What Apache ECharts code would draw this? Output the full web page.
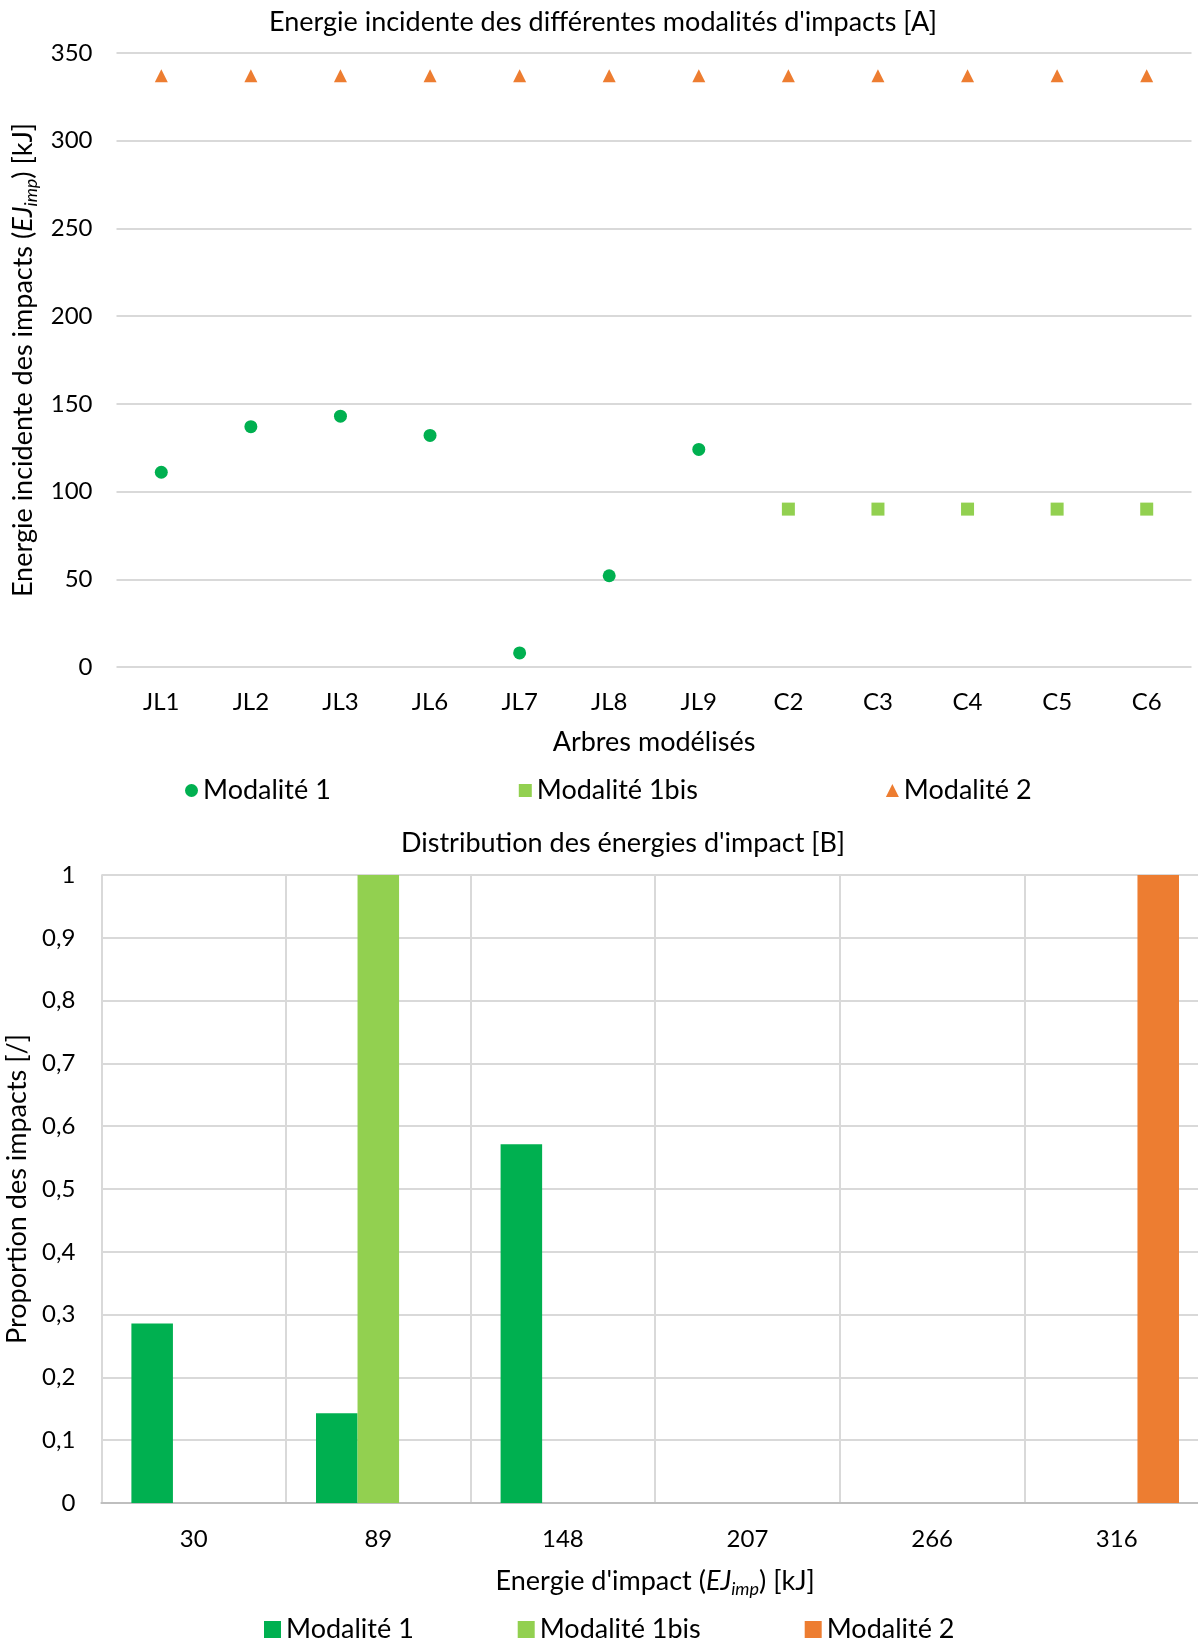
<!DOCTYPE html>
<html>
<head>
<meta charset="utf-8">
<script src="https://cdn.jsdelivr.net/npm/echarts@6/dist/echarts.min.js"></script>
<style>
  body { margin: 0; background: #fff; overflow: hidden; }
  /* plus large que la fenetre : le graphique [B] deborde a droite comme l'original */
  #main { width: 1230px; height: 1640px; }
</style>
</head>
<body>
<div id="main"></div>
<script>
// --- donnees du graphique [A] ---
var arbres = ['JL1', 'JL2', 'JL3', 'JL6', 'JL7', 'JL8', 'JL9', 'C2', 'C3', 'C4', 'C5', 'C6'];
var energieMod1 = [111, 137, 143, 132, 8, 52, 124, '-', '-', '-', '-', '-'];
var energieMod1bis = ['-', '-', '-', '-', '-', '-', '-', 90, 90, 90, 90, 90];
var energieMod2 = [337, 337, 337, 337, 337, 337, 337, 337, 337, 337, 337, 337];

// --- donnees du graphique [B] ---
var classesEnergie = ['30', '89', '148', '207', '266', '316'];
var propMod1 = [0.2857, 0.1429, 0.5714, 0, 0, 0];
var propMod1bis = [0, 1, 0, 0, 0, 0];
var propMod2 = [0, 0, 0, 0, 0, 1];

var VERT = '#00B050';
var VERT_CLAIR = '#92D050';
var ORANGE = '#ED7D31';
var FONT = 'Lato';
var FS = 27;      // textes
var FSN = 24;     // chiffres des axes
var TXT = '#000';
var GRILLE = '#d9d9d9';

var myChart = echarts.init(document.getElementById('main'));

// styles pour EJ en italique et "imp" en indice
var richNom = {
    n: { fontFamily: FONT, fontSize: FS, color: TXT, lineHeight: 34 },
    i: { fontFamily: FONT, fontSize: FS, color: TXT, fontStyle: 'italic', lineHeight: 34 },
    s: { fontFamily: FONT, fontSize: 18, color: TXT, fontStyle: 'italic', lineHeight: 34, verticalAlign: 'bottom', padding: [11, 0, 0, 0] }
};

var options = {
    backgroundColor: '#fff',
    textStyle: { fontFamily: FONT, color: TXT },
    title: [
        {
            text: "Energie incidente des différentes modalités d'impacts [A]",
            left: 603, top: 9, textAlign: 'center', padding: 0,
            textStyle: { fontFamily: FONT, fontSize: FS, fontWeight: 'normal', color: TXT }
        },
        {
            text: "Distribution des énergies d'impact [B]",
            left: 623, top: 830, textAlign: 'center', padding: 0,
            textStyle: { fontFamily: FONT, fontSize: FS, fontWeight: 'normal', color: TXT }
        }
    ],
    legend: [
        {
            left: 180, top: 772,
            itemGap: 188, itemWidth: 13, itemHeight: 13,
            textStyle: { fontFamily: FONT, fontSize: FS, color: TXT },
            data: [
                { name: 'Modalité 1', icon: 'circle' },
                { name: 'Modalité 1bis', icon: 'rect' },
                { name: 'Modalité 2', icon: 'triangle' }
            ]
        },
        {
            left: 259, top: 1611,
            itemGap: 97, itemWidth: 17, itemHeight: 17,
            textStyle: { fontFamily: FONT, fontSize: FS, color: TXT },
            data: [
                { name: 'Modalité 1 ', icon: 'rect' },
                { name: 'Modalité 1bis ', icon: 'rect' },
                { name: 'Modalité 2 ', icon: 'rect' }
            ]
        }
    ],
    grid: [
        { left: 116.5, top: 53, width: 1075, height: 614, outerBoundsMode: 'none' },
        { left: 101.4, top: 875, width: 1107.6, height: 628, outerBoundsMode: 'none' }
    ],
    xAxis: [
        {
            type: 'category', gridIndex: 0, data: arbres,
            axisLine: { show: false }, axisTick: { show: false },
            axisLabel: { fontFamily: FONT, fontSize: FSN, color: TXT, margin: 23 },
            name: 'Arbres modélisés', nameLocation: 'middle', nameGap: 62,
            nameTextStyle: { fontFamily: FONT, fontSize: FS, color: TXT }
        },
        {
            type: 'category', gridIndex: 1, data: classesEnergie,
            axisLine: { show: true, lineStyle: { color: '#bfbfbf', width: 2 } },
            axisTick: { show: false },
            splitLine: { show: true, lineStyle: { color: GRILLE, width: 2 } },
            axisLabel: { fontFamily: FONT, fontSize: FSN, color: TXT, margin: 24 },
            name: "{n|Energie d'impact (}{i|EJ}{s|imp}{n|) [kJ]}",
            nameLocation: 'middle', nameGap: 61,
            nameTextStyle: { rich: richNom }
        }
    ],
    yAxis: [
        {
            type: 'value', gridIndex: 0, min: 0, max: 350, interval: 50,
            axisLine: { show: false }, axisTick: { show: false },
            splitLine: { lineStyle: { color: GRILLE, width: 2 } },
            axisLabel: { fontFamily: FONT, fontSize: FSN, color: TXT, margin: 24 },
            name: '{n|Energie incidente des impacts (}{i|EJ}{s|imp}{n|) [kJ]}',
            nameLocation: 'middle', nameGap: 72,
            nameTextStyle: { rich: richNom }
        },
        {
            type: 'value', gridIndex: 1, min: 0, max: 1, interval: 0.1,
            axisLine: { show: false }, axisTick: { show: false },
            splitLine: { lineStyle: { color: GRILLE, width: 2 } },
            axisLabel: {
                fontFamily: FONT, fontSize: FSN, color: TXT, margin: 26,
                formatter: function (v) { return String(Math.round(v * 10) / 10).replace('.', ','); }
            },
            name: 'Proportion des impacts [/]',
            nameLocation: 'middle', nameGap: 63,
            nameTextStyle: { fontFamily: FONT, fontSize: FS, color: TXT }
        }
    ],
    series: [
        {
            name: 'Modalité 1', type: 'scatter', xAxisIndex: 0, yAxisIndex: 0,
            symbol: 'circle', symbolSize: 13, itemStyle: { color: VERT, opacity: 1 },
            data: energieMod1
        },
        {
            name: 'Modalité 1bis', type: 'scatter', xAxisIndex: 0, yAxisIndex: 0,
            symbol: 'rect', symbolSize: 13, itemStyle: { color: VERT_CLAIR, opacity: 1 },
            data: energieMod1bis
        },
        {
            name: 'Modalité 2', type: 'scatter', xAxisIndex: 0, yAxisIndex: 0,
            symbol: 'triangle', symbolSize: 13, itemStyle: { color: ORANGE, opacity: 1 },
            data: energieMod2
        },
        {
            name: 'Modalité 1 ', type: 'bar', xAxisIndex: 1, yAxisIndex: 1,
            barGap: '0%', barCategoryGap: '32.5%', itemStyle: { color: VERT },
            data: propMod1
        },
        {
            name: 'Modalité 1bis ', type: 'bar', xAxisIndex: 1, yAxisIndex: 1,
            barGap: '0%', barCategoryGap: '32.5%', itemStyle: { color: VERT_CLAIR },
            data: propMod1bis
        },
        {
            name: 'Modalité 2 ', type: 'bar', xAxisIndex: 1, yAxisIndex: 1,
            barGap: '0%', barCategoryGap: '32.5%', itemStyle: { color: ORANGE },
            data: propMod2
        }
    ]
};
myChart.setOption(options, true);
</script>
</body>
</html>
